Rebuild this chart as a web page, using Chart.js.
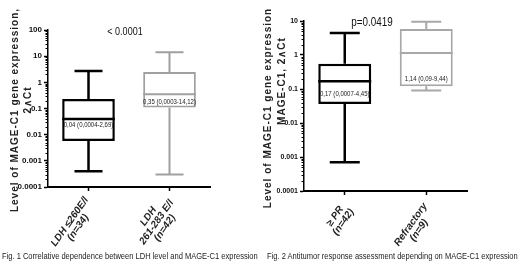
<!DOCTYPE html>
<html>
<head>
<meta charset="utf-8">
<script src="https://cdn.jsdelivr.net/npm/chart.js@4"></script>
<style>
body{margin:0;background:#fff;width:520px;height:268px;overflow:hidden;position:relative;font-family:'Liberation Sans',Arial,sans-serif}
.box{position:absolute;top:0;width:260px;height:268px}
.cap{position:absolute;top:251px;white-space:nowrap;font-size:9px;color:#222;transform-origin:0 0}
</style>
</head>
<body>
<div class="box" style="left:0"><canvas id="fig1" width="260" height="268"></canvas></div>
<div class="box" style="left:260px"><canvas id="fig2" width="260" height="268"></canvas></div>
<span class="cap" id="cap1" style="left:2px">Fig. 1 Correlative dependence between LDH level and MAGE-C1 expression</span>
<span class="cap" id="cap2" style="left:267px">Fig. 2 Antitumor response assessment depending on MAGE-C1 expression</span>
<script>
// Fig. 1 - nivel de LDH
const ldhGrupos = [['LDH ≤260E/l', '(n=34)'], ['LDH', '261-283 E/l', '(n=42)']];
const ldhMin = [0.0004, 0.0003];
const ldhQ1 = [0.0057, 0.11];
const ldhMediana = [0.04, 0.35];
const ldhQ3 = [0.23, 2.5];
const ldhMax = [2.69, 14.12];
const ldhNotas = ['0,04 (0,0004-2,69)', '0,35 (0,0003-14,12)'];
const ldhTicks = [0.0001, 0.001, 0.01, 0.1, 1, 10, 100];
const ldhP = '< 0.0001';

// Fig. 2 - resposta antitumoral
const respGrupos = [['≥ PR', '(n=42)'], ['Refractory', '(n=9)']];
const respMin = [0.0007, 0.09];
const respQ1 = [0.036, 0.12];
const respMediana = [0.17, 1.14];
const respQ3 = [0.55, 5.8];
const respMax = [4.45, 9.44];
const respNotas = ['0,17 (0,0007-4,45)', '1,14 (0,09-9,44)'];
const respTicks = [0.0001, 0.001, 0.01, 0.1, 1, 10];
const respP = 'p=0.0419';

const FONTE = "'Liberation Sans', Arial, sans-serif";

function textoEstreito(c, txt, x, y, fonte, escala, cor) {
    c.save();
    c.translate(x, y);
    c.scale(escala, 1);
    c.font = fonte;
    c.fillStyle = cor || '#111';
    c.textAlign = 'center';
    c.textBaseline = 'middle';
    c.fillText(txt, 0, 0);
    c.restore();
}

function criarBoxplot(id, cfg) {
    const plugin = {
        id: 'boxplot' + id,
        afterDatasetsDraw(chart) {
            const c = chart.ctx, x = chart.scales.x, y = chart.scales.y;
            const barras = chart.getDatasetMeta(0).data;
            for (let i = 0; i < cfg.q1.length; i++) {
                const cx = x.getPixelForValue(i);
                const m = barras[i].width / 2;
                const yMed = y.getPixelForValue(cfg.mediana[i]);
                const yQ1 = y.getPixelForValue(cfg.q1[i]);
                const yQ3 = y.getPixelForValue(cfg.q3[i]);
                const yMax = y.getPixelForValue(cfg.max[i]);
                const yMin = y.getPixelForValue(cfg.min[i]);
                const cap = cfg.capa / 2;
                c.save();
                c.strokeStyle = cfg.cores[i];
                c.lineWidth = cfg.espessura[i];
                c.beginPath();
                c.moveTo(cx - m, yMed); c.lineTo(cx + m, yMed);
                c.moveTo(cx, yQ3); c.lineTo(cx, yMax);
                c.moveTo(cx, yQ1); c.lineTo(cx, yMin);
                c.moveTo(cx - cap, yMax); c.lineTo(cx + cap, yMax);
                c.moveTo(cx - cap, yMin); c.lineTo(cx + cap, yMin);
                c.stroke();
                c.restore();
                textoEstreito(c, cfg.notas[i], cx, yMed + cfg.notaDy[i], '7px ' + FONTE, 0.86, '#222');
            }
        },
        afterDraw(chart) {
            const c = chart.ctx, x = chart.scales.x, y = chart.scales.y;
            const area = chart.chartArea;
            // minor ticks do eixo log
            c.save();
            c.strokeStyle = '#000';
            c.lineWidth = 1;
            c.beginPath();
            for (let d = -4; d < 2; d++) {
                for (let k = 2; k < 10; k++) {
                    const v = k * Math.pow(10, d);
                    if (v >= y.max) continue;
                    const py = Math.round(y.getPixelForValue(v)) + 0.5;
                    c.moveTo(area.left - 2.5, py); c.lineTo(area.left, py);
                }
            }
            c.stroke();
            c.restore();

            // rotulos das categorias
            c.save();
            c.font = 'italic bold 10px ' + FONTE;
            c.fillStyle = '#222';
            c.textAlign = 'center';
            c.textBaseline = 'middle';
            cfg.grupos.forEach((linhas, i) => {
                const larg = Math.max(...linhas.map(l => c.measureText(l).width));
                c.save();
                c.translate(x.getPixelForValue(i) + cfg.rotDx, area.bottom + cfg.rotDy);
                c.rotate(-55 * Math.PI / 180);
                linhas.forEach((l, k) => {
                    c.fillText(l, -larg / 2, (k - (linhas.length - 1) / 2) * 10);
                });
                c.restore();
            });
            c.restore();

            // titulo do eixo y
            c.save();
            c.font = 'bold 10px ' + FONTE;
            c.letterSpacing = '1px';
            c.fillStyle = '#222';
            c.textAlign = 'center';
            c.textBaseline = 'middle';
            cfg.tituloY.forEach(t => {
                c.save();
                c.translate(t.x, t.y);
                c.rotate(-Math.PI / 2);
                c.fillText(t.texto, 0, 0);
                c.restore();
            });
            c.restore();

            // valor p
            textoEstreito(c, cfg.p, cfg.pPos[0], cfg.pPos[1], cfg.pFonte + 'px ' + FONTE, 0.82, '#111');
        }
    };

    const ctx = document.getElementById(id).getContext('2d');
    return new Chart(ctx, {
        type: 'bar',
        data: {
            labels: cfg.grupos,
            datasets: [{
                data: cfg.q1.map((v, i) => [v, cfg.q3[i]]),
                backgroundColor: '#fff',
                borderColor: cfg.cores,
                borderWidth: cfg.espessura,
                borderSkipped: false,
                barPercentage: 0.65,
                categoryPercentage: 1
            }]
        },
        options: {
            responsive: false,
            animation: false,
            layout: { padding: cfg.padding },
            plugins: { legend: { display: false }, tooltip: { enabled: false } },
            scales: {
                x: {
                    grid: { display: true, drawOnChartArea: false, offset: false, tickLength: 4, tickWidth: 1.5, tickColor: '#000' },
                    border: { color: '#000', width: 2 },
                    ticks: { display: false },
                    afterFit: s => { s.height = cfg.alturaX; }
                },
                y: {
                    type: 'logarithmic',
                    min: cfg.yTicks[0],
                    max: cfg.yTicks[cfg.yTicks.length - 1],
                    afterBuildTicks: s => { s.ticks = cfg.yTicks.map(v => ({ value: v })); },
                    ticks: {
                        callback: v => String(v),
                        color: '#111',
                        padding: 2,
                        autoSkip: false,
                        font: { family: FONTE, size: cfg.yFonte, weight: 'bold' }
                    },
                    grid: { drawOnChartArea: false, tickLength: 4, tickWidth: 1.5, tickColor: '#000' },
                    border: { color: '#000', width: 1.5 },
                    afterFit: s => { s.width = cfg.larguraY; }
                }
            }
        },
        plugins: [plugin]
    });
}

criarBoxplot('fig1', {
    grupos: ldhGrupos, min: ldhMin, q1: ldhQ1, mediana: ldhMediana, q3: ldhQ3, max: ldhMax,
    notas: ldhNotas, notaDy: [6, 8], yTicks: ldhTicks, p: ldhP,
    cores: ['#000', '#a0a0a0'], espessura: [2.5, 2], capa: 28,
    padding: { left: 0, right: 50, top: 30, bottom: 0 }, larguraY: 48, alturaX: 81, yFonte: 8,
    rotDx: 2, rotDy: 14,
    tituloY: [{ texto: 'Level of MAGE-C1 gene expression,', x: 15, y: 110 }, { texto: '2∧Ct', x: 28, y: 100 }],
    pPos: [125, 32], pFonte: 11
});

criarBoxplot('fig2', {
    grupos: respGrupos, min: respMin, q1: respQ1, mediana: respMediana, q3: respQ3, max: respMax,
    notas: respNotas, notaDy: [13, 26], yTicks: respTicks, p: respP,
    cores: ['#000', '#a8a8a8'], espessura: [2.5, 2], capa: 30,
    padding: { left: 0, right: 53, top: 21, bottom: 0 }, larguraY: 44, alturaX: 77, yFonte: 7,
    rotDx: 3, rotDy: 16,
    tituloY: [{ texto: 'Level of MAGE-C1 gene expression', x: 8, y: 108 }, { texto: 'MAGE-C1, 2∧Ct', x: 22, y: 81 }],
    pPos: [112, 23], pFonte: 12
});

[['cap1', 256], ['cap2', 251]].forEach(([id, alvo]) => {
    const el = document.getElementById(id);
    el.style.transform = 'scaleX(' + (alvo / el.offsetWidth) + ')';
});
</script>
</body>
</html>
